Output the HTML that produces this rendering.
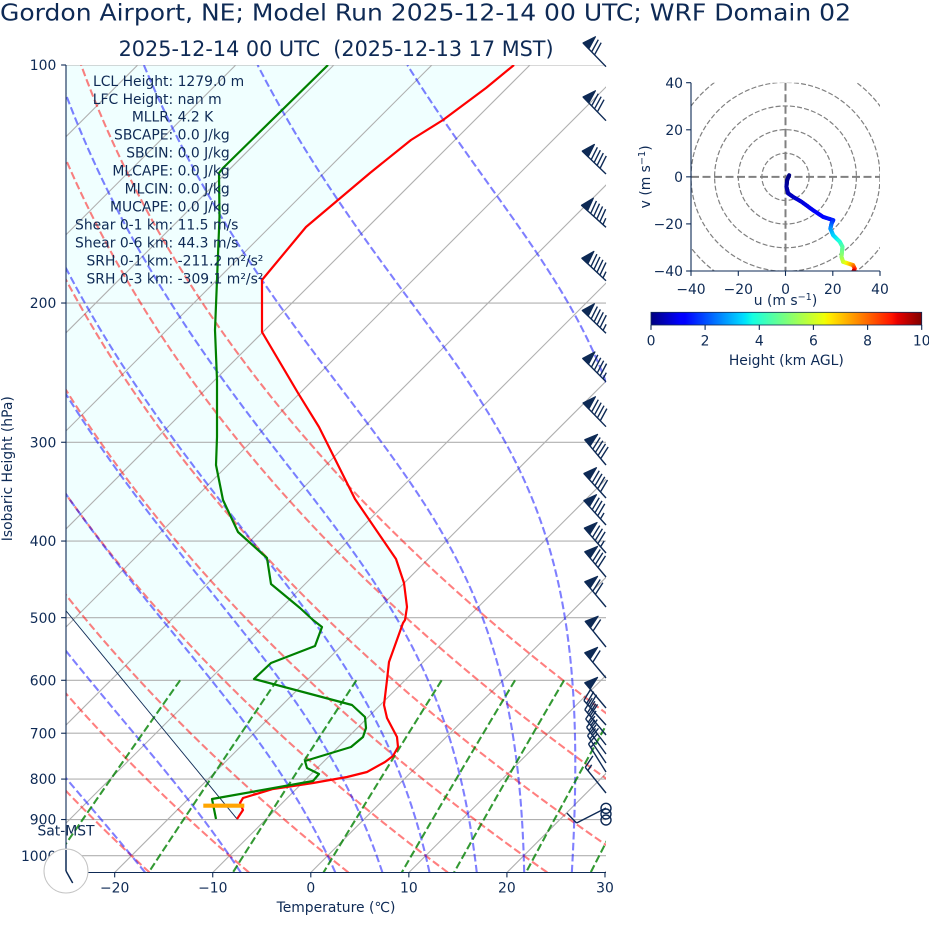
<!DOCTYPE html>
<html><head><meta charset="utf-8">
<style>
html,body{margin:0;padding:0;background:#fff;}
svg{display:block;}
text{font-family:"DejaVu Sans","Liberation Sans",sans-serif;fill:#0e2a55;}
</style></head>
<body>
<svg id="s" width="929" height="936" viewBox="0 0 929 936" xmlns="http://www.w3.org/2000/svg">
<defs>
<clipPath id="cm"><rect x="66" y="65" width="540" height="807.5"/></clipPath>
<clipPath id="ch"><rect x="691" y="82.7" width="189" height="188.3"/></clipPath>
<linearGradient id="jet" x1="0" y1="0" x2="1" y2="0">
<stop offset="0" stop-color="#000080"/>
<stop offset="0.11" stop-color="#0000ff"/>
<stop offset="0.125" stop-color="#0000ff"/>
<stop offset="0.34" stop-color="#00dbff"/>
<stop offset="0.35" stop-color="#00e6f7"/>
<stop offset="0.375" stop-color="#15ffe2"/>
<stop offset="0.64" stop-color="#efff08"/>
<stop offset="0.65" stop-color="#f7f600"/>
<stop offset="0.66" stop-color="#ffec00"/>
<stop offset="0.89" stop-color="#ff1300"/>
<stop offset="0.91" stop-color="#e80000"/>
<stop offset="1" stop-color="#800000"/>
</linearGradient>
</defs>
<rect width="929" height="936" fill="#fff"/>

<g clip-path="url(#cm)">
  <polygon fill="#f0ffff" points="237,819 20,554.8 20,40 544,40 514,65 486,88 443,120 411,140 370,173 338,200 306,227 262,280 262,332 298,393 319,427 355,499 396,559 404,583 407,607 405,620 403,623 389,662 387,680 384,705 387,718 397,737 398,747 393,756 385,762 367,772 347,777 313,783 273,789 243,798 240,803 243,810 237,819"/>
  <g id="hgrid"></g>
  <g id="iso"></g>
  <g id="dry"></g>
  <g id="moist"></g>
  <g id="mix"></g>
  <polyline points="237.3,819.3 20,554.8" fill="none" stroke="#0e2a55" stroke-width="0.9"/>
  <polyline fill="none" stroke="#ff0000" stroke-width="2.2" stroke-linejoin="round" points="514,65 486,88 443,120 411,140 370,173 338,200 306,227 262,280 262,332 298,393 319,427 355,499 396,559 404,583 407,607 405,620 403,623 389,662 387,680 384,705 387,718 397,737 398,747 393,756 385,762 367,772 347,777 313,783 273,789 243,798 240,803 243,810 237,819"/>
  <polyline fill="none" stroke="#008000" stroke-width="2.2" stroke-linejoin="round" points="328,65 223,168 219,173 219.5,217 217,280 215,330 217,380 217,437 216,465 223,500 238,532 267,558 271,584 300,608 313,620 322,627 315,646 271,663 254,679 352,705 365,717 366,728 363,737 351,747 305,761 307,768 319,774 313,781 212,799 213,804 216,819"/>
  <line x1="203.3" y1="805.7" x2="244.3" y2="805.7" stroke="#ffa500" stroke-width="4.2"/>
</g>

<!-- spines -->
<line x1="66" y1="65" x2="66" y2="872.5" stroke="#0e2a55" stroke-width="1.1"/>
<line x1="66" y1="872.5" x2="606" y2="872.5" stroke="#0e2a55" stroke-width="1.1"/>
<g id="ticks" stroke="#0e2a55" stroke-width="1.1"></g>

<!-- stats text -->
<g font-size="13.9">
<text x="173.2" y="85.8" text-anchor="end">LCL Height:</text><text x="177.6" y="85.8">1279.0 m</text>
<text x="173.2" y="103.8" text-anchor="end">LFC Height:</text><text x="177.6" y="103.8">nan m</text>
<text x="173.2" y="121.7" text-anchor="end">MLLR:</text><text x="177.6" y="121.7">4.2 K</text>
<text x="173.2" y="139.7" text-anchor="end">SBCAPE:</text><text x="177.6" y="139.7">0.0 J/kg</text>
<text x="173.2" y="157.6" text-anchor="end">SBCIN:</text><text x="177.6" y="157.6">0.0 J/kg</text>
<text x="173.2" y="175.6" text-anchor="end">MLCAPE:</text><text x="177.6" y="175.6">0.0 J/kg</text>
<text x="173.2" y="193.6" text-anchor="end">MLCIN:</text><text x="177.6" y="193.6">0.0 J/kg</text>
<text x="173.2" y="211.5" text-anchor="end">MUCAPE:</text><text x="177.6" y="211.5">0.0 J/kg</text>
<text x="173.2" y="229.5" text-anchor="end">Shear 0-1 km:</text><text x="177.6" y="229.5">11.5 m/s</text>
<text x="173.2" y="247.4" text-anchor="end">Shear 0-6 km:</text><text x="177.6" y="247.4">44.3 m/s</text>
<text x="173.2" y="265.4" text-anchor="end">SRH 0-1 km:</text><text x="177.6" y="265.4">-211.2 m²/s²</text>
<text x="173.2" y="283.3" text-anchor="end">SRH 0-3 km:</text><text x="177.6" y="283.3">-309.1 m²/s²</text>
</g>

<!-- titles -->
<text x="0" y="20.7" font-size="23" textLength="851" lengthAdjust="spacingAndGlyphs">Gordon Airport, NE; Model Run 2025-12-14 00 UTC; WRF Domain 02</text>
<text x="118.6" y="56" font-size="21" textLength="435" lengthAdjust="spacingAndGlyphs" style="white-space:pre">2025-12-14 00 UTC  (2025-12-13 17 MST)</text>

<!-- y tick labels -->
<g font-size="13.9" text-anchor="end">
<text x="56.3" y="70.1">100</text>
<text x="56.3" y="308.1">200</text>
<text x="56.3" y="447.4">300</text>
<text x="56.3" y="546.2">400</text>
<text x="56.3" y="622.8">500</text>
<text x="56.3" y="685.4">600</text>
<text x="56.3" y="738.4">700</text>
<text x="56.3" y="784.2">800</text>
<text x="56.3" y="824.6">900</text>
<text x="56.3" y="860.8">1000</text>
</g>
<!-- x tick labels -->
<g font-size="13.9" text-anchor="middle">
<text x="114.7" y="892.3">−20</text>
<text x="212.8" y="892.3">−10</text>
<text x="310.8" y="892.3">0</text>
<text x="408.9" y="892.3">10</text>
<text x="506.9" y="892.3">20</text>
<text x="605" y="892.3">30</text>
</g>
<text x="336" y="912" font-size="13.9" text-anchor="middle">Temperature (℃)</text>
<text transform="translate(12,468.75) rotate(-90)" font-size="13.9" text-anchor="middle">Isobaric Height (hPa)</text>
<text x="66" y="835.5" font-size="13.9" text-anchor="middle">Sat-MST</text>

<!-- clock -->
<circle cx="66" cy="871" r="22" fill="#fff" stroke="#c4c4c4" stroke-width="1"/>
<line x1="66" y1="871" x2="66" y2="850" stroke="#0e2a55" stroke-width="1.5"/>
<line x1="66" y1="871" x2="72.7" y2="883" stroke="#0e2a55" stroke-width="1.5"/>

<!-- barbs -->
<g id="barbs"></g>
<g fill="none" stroke="#0e2a55" stroke-width="1.4">
<circle cx="606" cy="808.3" r="5"/>
<circle cx="606" cy="814" r="5"/>
<circle cx="606" cy="820" r="5"/>
</g>

<!-- hodograph -->
<g clip-path="url(#ch)">
  <g fill="none" stroke="#808080" stroke-width="1.2" stroke-dasharray="5 2.2">
    <circle cx="785.5" cy="176.85" r="23.6"/>
    <circle cx="785.5" cy="176.85" r="47.2"/>
    <circle cx="785.5" cy="176.85" r="70.9"/>
    <circle cx="785.5" cy="176.85" r="94.5"/>
    <circle cx="785.5" cy="176.85" r="118.1"/>
  </g>
  <line x1="691" y1="176.85" x2="880" y2="176.85" stroke="#808080" stroke-width="2" stroke-dasharray="8 3.5"/>
  <line x1="785.5" y1="82.7" x2="785.5" y2="271" stroke="#808080" stroke-width="2" stroke-dasharray="8 3.5"/>
  <g id="hodo"></g>
</g>
<line x1="691" y1="82.7" x2="691" y2="271" stroke="#0e2a55" stroke-width="1.1"/>
<line x1="691" y1="271" x2="880" y2="271" stroke="#0e2a55" stroke-width="1.1"/>
<g stroke="#0e2a55" stroke-width="1.1">
<line x1="691" y1="271" x2="691" y2="275.9"/>
<line x1="738.3" y1="271" x2="738.3" y2="275.9"/>
<line x1="785.5" y1="271" x2="785.5" y2="275.9"/>
<line x1="832.8" y1="271" x2="832.8" y2="275.9"/>
<line x1="880" y1="271" x2="880" y2="275.9"/>
<line x1="686.1" y1="82.7" x2="691" y2="82.7"/>
<line x1="686.1" y1="129.8" x2="691" y2="129.8"/>
<line x1="686.1" y1="176.85" x2="691" y2="176.85"/>
<line x1="686.1" y1="223.9" x2="691" y2="223.9"/>
<line x1="686.1" y1="271" x2="691" y2="271"/>
</g>
<g font-size="13.9" text-anchor="middle">
<text x="691" y="294">−40</text>
<text x="738.3" y="294">−20</text>
<text x="785.5" y="294">0</text>
<text x="832.8" y="294">20</text>
<text x="880" y="294">40</text>
</g>
<g font-size="13.9" text-anchor="end">
<text x="683" y="87.8">40</text>
<text x="683" y="134.9">20</text>
<text x="683" y="181.9">0</text>
<text x="683" y="229">−20</text>
<text x="683" y="276.1">−40</text>
</g>
<text x="785.5" y="305" font-size="13.9" text-anchor="middle">u (m s<tspan dy="-5" font-size="9.7">−1</tspan><tspan dy="5">)</tspan></text>
<text transform="translate(650,176.85) rotate(-90)" font-size="13.9" text-anchor="middle">v (m s<tspan dy="-5" font-size="9.7">−1</tspan><tspan dy="5">)</tspan></text>

<!-- colorbar -->
<rect x="651" y="312.3" width="270.7" height="12.7" fill="url(#jet)" stroke="#0e2a55" stroke-width="0.8"/>
<g stroke="#0e2a55" stroke-width="1.1">
<line x1="651" y1="325" x2="651" y2="329.9"/>
<line x1="705.1" y1="325" x2="705.1" y2="329.9"/>
<line x1="759.3" y1="325" x2="759.3" y2="329.9"/>
<line x1="813.4" y1="325" x2="813.4" y2="329.9"/>
<line x1="867.6" y1="325" x2="867.6" y2="329.9"/>
<line x1="921.7" y1="325" x2="921.7" y2="329.9"/>
</g>
<g font-size="13.9" text-anchor="middle">
<text x="651" y="345.7">0</text>
<text x="705.1" y="345.7">2</text>
<text x="759.3" y="345.7">4</text>
<text x="813.4" y="345.7">6</text>
<text x="867.6" y="345.7">8</text>
<text x="921.7" y="345.7">10</text>
</g>
<text x="786.3" y="365" font-size="13.9" text-anchor="middle">Height (km AGL)</text>
</svg>

<script>
(function(){
const NS='http://www.w3.org/2000/svg';
function el(tag,attrs,parent){const e=document.createElementNS(NS,tag);for(const k in attrs)e.setAttribute(k,attrs[k]);parent.appendChild(e);return e;}
const Y0=65,K=343.4,XB=310.8,SX=9.806,YB=872.5;
const yP=p=>Y0+K*Math.log(p/100);
const xT=(T,p)=>XB+SX*T+(YB-yP(p));
const pl=pts=>pts.map(q=>q[0].toFixed(2)+','+q[1].toFixed(2)).join(' ');
const G=id=>document.getElementById(id);

for(let p=100;p<=1000;p+=100){
  const y=yP(p);
  el('line',{x1:66,y1:y,x2:606,y2:y,stroke:'#b0b0b0','stroke-width':1.1},G('hgrid'));
  el('line',{x1:61.1,y1:y,x2:66,y2:y},G('ticks'));
}
for(let T=-20;T<=30;T+=10){const x=XB+SX*T;el('line',{x1:x,y1:872.5,x2:x,y2:877.4},G('ticks'));}
for(let T=-120;T<=30;T+=10){const xb=XB+SX*T;
  el('line',{x1:xb,y1:YB,x2:xb+807.5,y2:65,stroke:'#b0b0b0','stroke-width':1.1},G('iso'));}

const Rd=287.04749,Cpd=1004.6662,kap=Rd/Cpd,Lv=2.50084e6,eps=0.6219569;
const ps=[];for(let i=0;i<=200;i++)ps.push(1050-950*i/200);
for(let t0=-60;t0<=50;t0+=10){
  const pts=ps.map(p=>{const T=(t0+273.15)*Math.pow(p/1000,kap)-273.15;return [xT(T,p),yP(p)];});
  el('polyline',{points:pl(pts),fill:'none',stroke:'#ff0000','stroke-opacity':0.5,'stroke-width':2.08,'stroke-dasharray':'7.7 3.3'},G('dry'));
}
function es(T){return 6.112*Math.exp(17.67*(T-273.15)/(T-29.65));}
function dTdp(p,T){const e=es(T);const rs=eps*e/(p-e);return (Rd*T+Lv*rs)/(Cpd+Lv*Lv*rs*eps/(Rd*T*T))/p;}
function rk(p,T,h){const k1=dTdp(p,T),k2=dTdp(p+h/2,T+h*k1/2),k3=dTdp(p+h/2,T+h*k2/2),k4=dTdp(p+h,T+h*k3);return T+h*(k1+2*k2+2*k3+k4)/6;}
function moist(t0){
  const dn=[],up=[];let T=t0+273.15,p=1000;dn.push([p,T]);
  while(p<1050-1e-9){const h=Math.min(2,1050-p);T=rk(p,T,h);p+=h;dn.push([p,T]);}
  T=t0+273.15;p=1000;
  while(p>100+1e-9){const h=-Math.min(2,p-100);T=rk(p,T,h);p+=h;up.push([p,T]);}
  return dn.reverse().concat(up);
}
[-40,-30,-20,-10,0,5,10,15,20,25,30].forEach(t0=>{
  const arr=moist(t0);const pts=arr.map(a=>[xT(a[1]-273.15,a[0]),yP(a[0])]);
  el('polyline',{points:pl(pts),fill:'none',stroke:'#0000ff','stroke-opacity':0.5,'stroke-width':2.08,'stroke-dasharray':'7.7 3.3'},G('moist'));
});
[0.0004,0.001,0.002,0.004,0.007,0.01,0.016,0.024,0.032].forEach(w=>{
  const pts=[];for(let i=0;i<=50;i++){const p=600+450*i/50;const e=p*w/(eps+w);const v=Math.log(e/6.112);const Td=243.5*v/(17.67-v);pts.push([xT(Td,p),yP(p)]);}
  el('polyline',{points:pl(pts),fill:'none',stroke:'#008000','stroke-opacity':0.8,'stroke-width':2.08,'stroke-dasharray':'7.7 3.3'},G('mix'));
});

function barb(bx,by,adeg,nf,nb,half){
  const L=33,fh=0.4*L,fw=0.25*L,sp=0.125*L;
  const a=adeg*Math.PI/180,dx=Math.sin(a),dy=-Math.cos(a),px=-dy,py=dx;
  const P=(s,h)=>[bx+s*dx+h*px,by+s*dy+h*py];
  const g=G('barbs');
  // staff
  el('line',{x1:bx,y1:by,x2:P(L,0)[0],y2:P(L,0)[1],stroke:'#0e2a55','stroke-width':1.4},g);
  let off=L;
  for(let i=0;i<nf;i++){if(off!==L)off+=sp/2;
    el('polygon',{points:pl([P(off,0),P(off-fw/2,fh),P(off-fw,0)]),fill:'#0e2a55',stroke:'#0e2a55','stroke-width':1.2,'stroke-linejoin':'round'},g);
    off-=fw+sp;}
  for(let i=0;i<nb;i++){const A=P(off,0),B=P(off+fw/2,fh);
    el('line',{x1:A[0],y1:A[1],x2:B[0],y2:B[1],stroke:'#0e2a55','stroke-width':1.4},g);off-=sp;}
  if(half){if(off===L){off-=1.5*sp;}const A=P(off,0),B=P(off+fw/4,fh/2);
    el('line',{x1:A[0],y1:A[1],x2:B[0],y2:B[1],stroke:'#0e2a55','stroke-width':1.4},g);}
}
[[66.7,-44,1,2,0],[120.7,-44,1,3,0],[174,-46,1,4,0],[227.3,-48,1,4,1],[280.7,-47,1,4,1],
 [333.3,-46,1,4,1],[381.7,-45,1,4,1],[426.7,-44,1,4,0],[465,-40,1,4,0],[498,-42,1,4,0],
 [525,-42,1,3,1],[553,-41,1,3,1],[577,-40,1,3,0],[607,-40,1,2,0],[647,-39,1,1,0],
 [678,-40,1,1,0],[708,-40,1,0,0],[725,-42,0,3,1],[735,-40,0,3,0],[745,-38,0,2,1],
 [754,-36,0,2,1],[763,-34,0,2,0],[772,-32,0,1,1],[793,-39,0,1,1],[808,-117,0,1,0]
].forEach(b=>barb(606,b[0],b[1],b[2],b[3],b[4]));

function jet(v){
  v=Math.max(0,Math.min(1,v));
  let r,g,b;
  r=v<0.35?0:v<0.66?(v-0.35)/0.31:v<0.89?1:1-0.5*(v-0.89)/0.11;
  g=v<0.125?0:v<0.375?(v-0.125)/0.25:v<0.64?1:v<0.91?1-(v-0.64)/0.27:0;
  b=v<0.11?0.5+0.5*v/0.11:v<0.34?1:v<0.65?1-(v-0.34)/0.31:0;
  return 'rgb('+Math.round(r*255)+','+Math.round(g*255)+','+Math.round(b*255)+')';
}
const hod=[[1.55,0.7,0],[0.7,-1.4,0.1],[0.4,-4.2,0.25],[1.1,-7,0.4],[3.2,-8.5,0.55],[6.8,-10.6,0.75],[11.7,-14.2,1.0],[15.9,-17,1.2],[20.2,-18.4,1.5],[19.5,-19.8,1.9],[19,-22,2.6],[20.2,-24.8,3.2],[23,-27.6,3.8],[24.1,-29.7,4.4],[23.7,-34,5.2],[24.4,-36.1,5.8],[26.5,-36.8,6.5],[28.6,-37.5,7.4],[29.3,-39,8.4],[28.6,-40.5,9.5]];
const hx=u=>785.5+u*2.3625,hy=v=>176.85-v*2.354;
for(let i=0;i<hod.length-1;i++){
  const A=hod[i],B=hod[i+1],n=6;
  for(let j=0;j<n;j++){
    const t1=j/n,t2=(j+1)/n;
    const u1=A[0]+(B[0]-A[0])*t1,v1=A[1]+(B[1]-A[1])*t1,u2=A[0]+(B[0]-A[0])*t2,v2=A[1]+(B[1]-A[1])*t2;
    const h=A[2]+(B[2]-A[2])*(t1+t2)/2;
    el('line',{x1:hx(u1),y1:hy(v1),x2:hx(u2),y2:hy(v2),stroke:jet(h/10),'stroke-width':4,'stroke-linecap':'round'},G('hodo'));
  }
}
})();
</script>
</body></html>
